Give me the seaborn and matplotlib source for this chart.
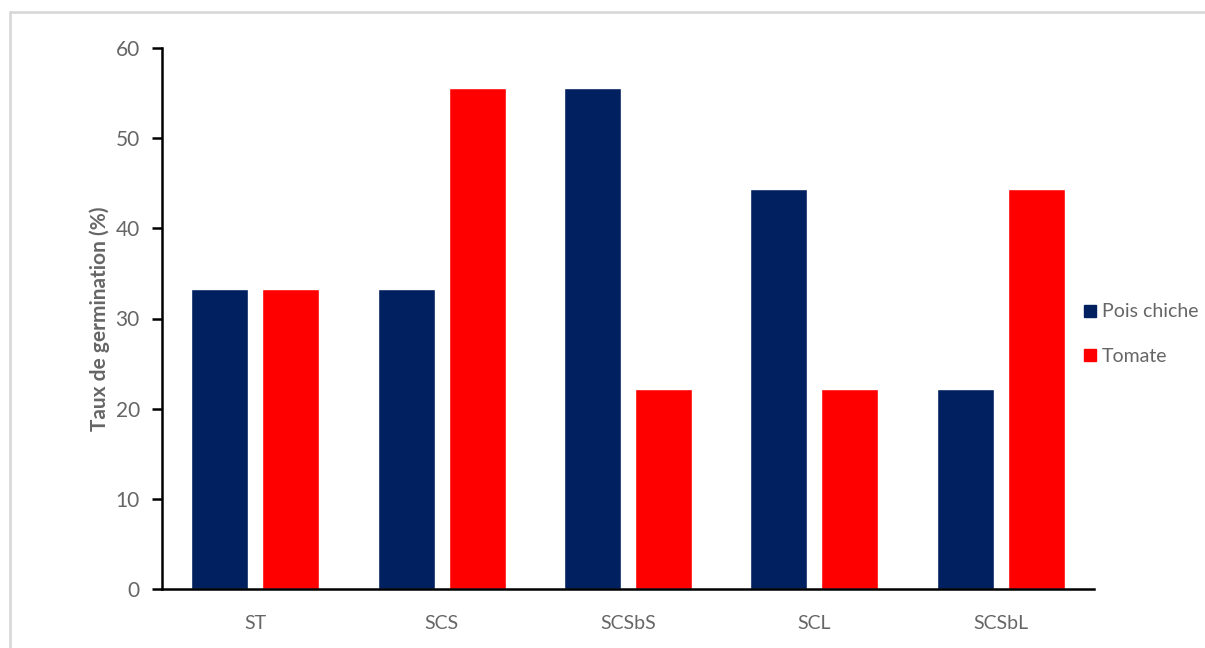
import matplotlib
matplotlib.use("Agg")
import matplotlib.pyplot as plt
import seaborn as sns
import pandas as pd
from matplotlib.lines import Line2D

categories = ["ST", "SCS", "SCSbS", "SCL", "SCSbL"]
pois_chiche = [33.3, 33.3, 55.6, 44.4, 22.2]
tomate = [33.3, 55.6, 22.2, 22.2, 44.4]
series_names = ["Pois chiche", "Tomate"]
colors = ["#002060", "#FF0000"]
y_ticks = [0, 10, 20, 30, 40, 50, 60]

df = pd.DataFrame({
    "cat": categories * 2,
    "val": pois_chiche + tomate,
    "serie": [series_names[0]] * len(categories) + [series_names[1]] * len(categories),
})

sns.set_theme(style="white")
plt.rcParams["font.family"] = ["Lato", "DejaVu Sans"]

fig = plt.figure(figsize=(12.05, 6.48), dpi=100)
ax = fig.add_axes([162 / 1205, 1 - 589 / 648, (1094 - 162) / 1205, (589 - 48) / 648])

sns.barplot(data=df, x="cat", y="val", hue="serie", order=categories,
            hue_order=series_names, palette=colors, width=0.762, gap=0.197,
            saturation=1, ax=ax, legend=False)

ax.set_ylim(0, 60)
ax.set_yticks(y_ticks)
ax.set_xlim(-0.5, len(categories) - 0.5)
ax.set_xlabel("")
ax.set_ylabel("Taux de germination (%)", fontsize=15, color="#666666",
              fontweight="bold", labelpad=4)

for s in ["top", "right"]:
    ax.spines[s].set_visible(False)
for s in ["left", "bottom"]:
    ax.spines[s].set_color("black")
    ax.spines[s].set_linewidth(1.8)

ax.tick_params(axis="y", which="both", left=True, length=7, width=1.8,
               color="black", labelsize=15, labelcolor="#666666", pad=9)
ax.tick_params(axis="x", bottom=False, labelsize=14, labelcolor="#666666", pad=13)

handles = [Line2D([], [], marker="s", linestyle="", markersize=9,
                  markerfacecolor=c, markeredgecolor=c) for c in colors]
fig.legend(handles, series_names, loc="center left",
           bbox_to_anchor=(1063 / 1205, 1 - 334 / 648), frameon=False,
           fontsize=14, labelcolor="#666666", handletextpad=0.1,
           labelspacing=1.4, handlelength=1.0)

fig.add_artist(Line2D([10 / 1205, 1], [1 - 12 / 648, 1 - 12 / 648],
                      color="#D9D9D9", linewidth=2, transform=fig.transFigure))
fig.add_artist(Line2D([10 / 1205, 10 / 1205], [0, 1 - 12 / 648],
                      color="#D9D9D9", linewidth=2, transform=fig.transFigure))

fig.savefig("out.png", dpi=100)
